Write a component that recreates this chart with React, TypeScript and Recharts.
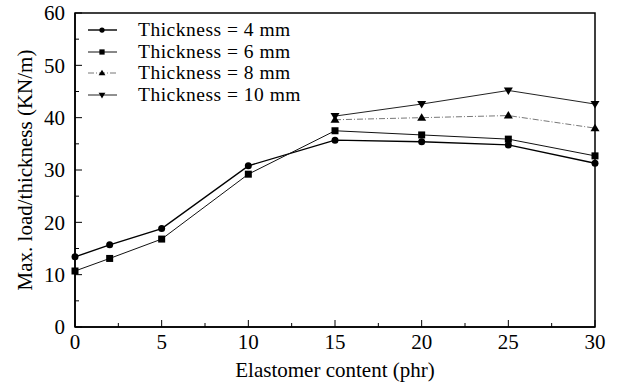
import React from "react";
import {
  LineChart,
  Line,
  XAxis,
  YAxis,
  Legend,
  ReferenceArea,
  Label,
} from "recharts";

const FONT = "Liberation Serif, DejaVu Serif, serif";

const xValues = [0, 2, 5, 10, 15, 20, 25, 30];
const thick4 = [13.4, 15.7, 18.8, 30.8, 35.7, 35.4, 34.8, 31.3];
const thick6 = [10.7, 13.1, 16.8, 29.2, 37.5, 36.7, 35.9, 32.7];
const thick8 = [null, null, null, null, 39.6, 40.0, 40.4, 38.0];
const thick10 = [null, null, null, null, 40.3, 42.6, 45.2, 42.6];

const xTicks = [0, 2.5, 5, 7.5, 10, 12.5, 15, 17.5, 20, 22.5, 25, 27.5, 30];
const yTicks = [0, 5, 10, 15, 20, 25, 30, 35, 40, 45, 50, 55, 60];

const seriesNames = [
  "Thickness = 4 mm",
  "Thickness = 6 mm",
  "Thickness = 8 mm",
  "Thickness = 10 mm",
];

const data = xValues.map((x, i) => ({
  x,
  t4: thick4[i],
  t6: thick6[i],
  t8: thick8[i],
  t10: thick10[i],
}));

type Shape = "circle" | "square" | "up" | "down";

const marker = (shape: Shape, cx: number, cy: number, s = 1, key?: string) => {
  if (shape === "circle")
    return <circle key={key} cx={cx} cy={cy} r={3.5 * s} fill="#000" />;
  if (shape === "square")
    return (
      <rect key={key} x={cx - 3.5 * s} y={cy - 3.5 * s} width={7 * s} height={7 * s} fill="#000" />
    );
  const h = 4.5 * s;
  const b = 3 * s;
  if (shape === "up")
    return <path key={key} d={`M${cx},${cy - h}L${cx + h},${cy + b}L${cx - h},${cy + b}Z`} fill="#000" />;
  return <path key={key} d={`M${cx},${cy + h}L${cx + h},${cy - b}L${cx - h},${cy - b}Z`} fill="#000" />;
};

const dotFor = (shape: Shape) => (props: any) => {
  const { cx, cy, key, value } = props;
  if (cx == null || cy == null || value == null) return <g key={key} />;
  return marker(shape, cx, cy, 1, key);
};

const series = [
  { key: "t4", shape: "circle" as Shape, stroke: "#000", width: 1.4, dash: undefined },
  { key: "t6", shape: "square" as Shape, stroke: "#111", width: 1, dash: undefined },
  { key: "t8", shape: "up" as Shape, stroke: "#777", width: 1, dash: "6 2 1 2" },
  { key: "t10", shape: "down" as Shape, stroke: "#222", width: 1, dash: undefined },
];

const XTick = (props: any) => {
  const { x, y, payload } = props;
  const v = payload.value;
  const major = v % 5 === 0;
  return (
    <g>
      <line x1={x} x2={x} y1={y} y2={y - (major ? 7 : 4)} stroke="#000" />
      {major && (
        <text x={x} y={y + 7} dy="0.71em" textAnchor="middle" fontSize={21} fontFamily={FONT} fill="#000">
          {v}
        </text>
      )}
    </g>
  );
};

const YTick = (props: any) => {
  const { x, y, payload } = props;
  const v = payload.value;
  const major = v % 10 === 0;
  return (
    <g>
      <line x1={x} x2={x + (major ? 7 : 4)} y1={y} y2={y} stroke="#000" />
      {major && (
        <text x={x - 10} y={y} dy="0.35em" textAnchor="end" fontSize={21} fontFamily={FONT} fill="#000">
          {v}
        </text>
      )}
    </g>
  );
};

const LegendBox = () => (
  <div style={{ fontFamily: FONT, fontSize: 19.5, lineHeight: "21.7px", color: "#000" }}>
    {series.map((s, i) => (
      <div key={s.key} style={{ display: "flex", alignItems: "center", height: 21.7 }}>
        <svg width={48} height={14} style={{ marginRight: 4, flex: "none" }}>
          <line x1={2} x2={31} y1={7} y2={7} stroke={s.stroke} strokeWidth={s.width} strokeDasharray={s.dash} />
          {marker(s.shape, 16, 7, 0.75)}
        </svg>
        <span style={{ whiteSpace: "nowrap", letterSpacing: 0.5 }}>{seriesNames[i]}</span>
      </div>
    ))}
  </div>
);

export default function App() {
  return (
    <div style={{ position: "absolute", left: 0, top: 0, background: "#fff" }}>
      <LineChart
        width={617}
        height={383}
        data={data}
        margin={{ top: 13, right: 22, bottom: 0, left: 0 }}
      >
        <XAxis
          dataKey="x"
          type="number"
          domain={[0, 30]}
          ticks={xTicks}
          interval={0}
          height={56}
          tickSize={0}
          tickMargin={0}
          tickLine={false}
          tick={<XTick />}
          axisLine={{ stroke: "#000", strokeWidth: 1.5 }}
        >
          <Label
            value="Elastomer content (phr)"
            position="insideBottom"
            offset={6}
            style={{ fontFamily: FONT, fontSize: 21, fill: "#000" }}
          />
        </XAxis>
        <YAxis
          type="number"
          domain={[0, 60]}
          ticks={yTicks}
          interval={0}
          width={75}
          tickSize={0}
          tickMargin={0}
          tickLine={false}
          tick={<YTick />}
          axisLine={{ stroke: "#000", strokeWidth: 1.5 }}
        >
          <Label
            content={() => (
              <text
                transform="translate(25,170) rotate(-90)"
                textAnchor="middle"
                dominantBaseline="central"
                fontSize={21}
                fontFamily={FONT}
                fill="#000"
              >
                Max. load/thickness (KN/m)
              </text>
            )}
          />
        </YAxis>
        <ReferenceArea x1={0} x2={30} y1={0} y2={60} fill="none" stroke="#000" strokeWidth={1.5} />
        <Legend
          layout="vertical"
          align="center"
          verticalAlign="middle"
          content={<LegendBox />}
          wrapperStyle={{ left: 86, top: 19, width: 260 }}
        />
        {series.map((s) => (
          <Line
            key={s.key}
            dataKey={s.key}
            type="linear"
            stroke={s.stroke}
            strokeWidth={s.width}
            strokeDasharray={s.dash}
            dot={dotFor(s.shape)}
            activeDot={false}
            connectNulls={false}
            isAnimationActive={false}
          />
        ))}
      </LineChart>
    </div>
  );
}
